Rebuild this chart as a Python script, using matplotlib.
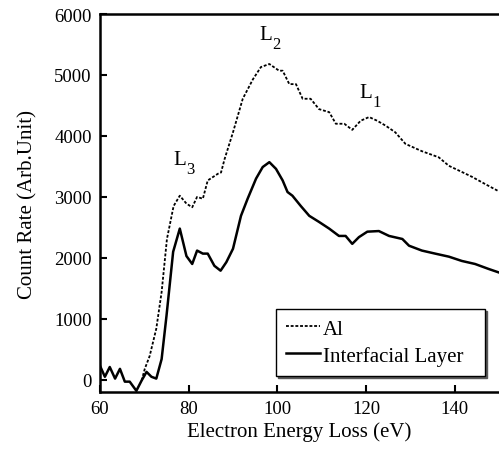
import numpy as np
import matplotlib
matplotlib.use("Agg")
import matplotlib.pyplot as plt

plt.rcParams['font.family'] = ['Liberation Serif', 'DejaVu Serif']

# Interfacial layer (solid)
e_int = [60, 61.1, 62.2, 63.4, 64.5, 65.6, 66.7, 68.2, 69.4, 70.5, 71.6, 72.7,
         73.9, 75.0, 76.5, 78.0, 79.5, 80.8, 81.9, 83.2, 84.3, 85.8, 87.2, 88.5,
         90.0, 91.8, 93.3, 95.2, 96.7, 98.2, 99.7, 101.2, 102.3, 103.4, 105.3,
         107.2, 109.4, 111.7, 113.9, 115.4, 116.9, 118.4, 120.3, 122.9, 125.2,
         128.2, 129.7, 132.6, 135.6, 138.7, 141.6, 144.6, 147.6, 150]
c_int = [230, 50, 210, 20, 180, -30, -30, -180, -10, 130, 50, 20,
         340, 1050, 2100, 2480, 2030, 1900, 2120, 2070, 2070, 1870, 1790, 1930,
         2150, 2690, 2970, 3300, 3490, 3570, 3460, 3270, 3080, 3020, 2850,
         2690, 2590, 2480, 2360, 2360, 2230, 2340, 2430, 2440, 2360,
         2310, 2200, 2120, 2070, 2020, 1950, 1900, 1820, 1760]

# Al (dotted)
e_al = [69.4, 70.1, 71.2, 72.7, 73.9, 75.1, 76.6, 78.0, 79.5, 80.8, 81.9, 83.2,
        84.3, 86.6, 87.3, 88.1, 90.0, 92.2, 94.5, 96.3, 98.2, 100.4, 101.2, 102.7,
        104.2, 105.7, 107.5, 109.4, 111.7, 113.2, 115.1, 116.9, 118.8, 120.7,
        122.5, 124.4, 126.6, 128.9, 132.6, 136.4, 138.7, 141.6, 143.9, 146.9, 150]
c_al = [-10, 180, 390, 840, 1440, 2310, 2850, 3020, 2890, 2830, 3000, 2970,
        3270, 3380, 3400, 3620, 4060, 4610, 4930, 5130, 5180, 5070, 5070, 4850,
        4850, 4610, 4610, 4440, 4390, 4200, 4200, 4100, 4250, 4310,
        4250, 4170, 4060, 3870, 3750, 3650, 3510, 3410, 3330, 3210, 3090]

# edge labels: (energy, count, subscript)
peaks = [(78.0, 3620, '3'), (97.5, 5670, '2'), (120.0, 4720, '1')]

fig = plt.figure(figsize=(4.99, 4.52), dpi=100)
ax = fig.add_axes([0.2004, 0.1305, 0.7996, 0.8363])

ax.plot(e_al, c_al, color='black', lw=1.3, ls=(0, (1.6, 1.0)), label='Al')
ax.plot(e_int, c_int, color='black', lw=1.8, label='Interfacial Layer')

ax.set_xlim(60, 150)
ax.set_ylim(-200, 6000)
ax.set_xticks([60, 80, 100, 120, 140])
ax.set_yticks([0, 1000, 2000, 3000, 4000, 5000, 6000])
ax.tick_params(direction='in', length=5, width=1.5, labelsize=13.5, pad=6)
for s in ['left', 'bottom', 'top']:
    ax.spines[s].set_linewidth(1.8)
ax.spines['right'].set_visible(False)

ax.set_xlabel('Electron Energy Loss (eV)', fontsize=15, labelpad=3)
ax.set_ylabel('Count Rate (Arb.Unit)', fontsize=15, labelpad=12)

for x, y, sub in peaks:
    ax.text(x, y, 'L', fontsize=15, ha='center', va='center')
    ax.annotate(sub, xy=(x, y), xytext=(7.5, -7), textcoords='offset points',
                fontsize=12, ha='center', va='center')

leg = ax.legend(loc='lower left', bbox_to_anchor=(0.441, 0.042, 0.524, 0.1),
                mode='expand', fontsize=15, frameon=True, fancybox=False,
                shadow={'ox': 1.5, 'oy': -1.5, 'color': '0.35', 'alpha': 1},
                handlelength=1.6, handletextpad=0.15, borderpad=0.5,
                labelspacing=0.35, borderaxespad=0)
leg.get_frame().set_edgecolor('black')
leg.get_frame().set_linewidth(1.0)

fig.savefig('out.png', dpi=100)
